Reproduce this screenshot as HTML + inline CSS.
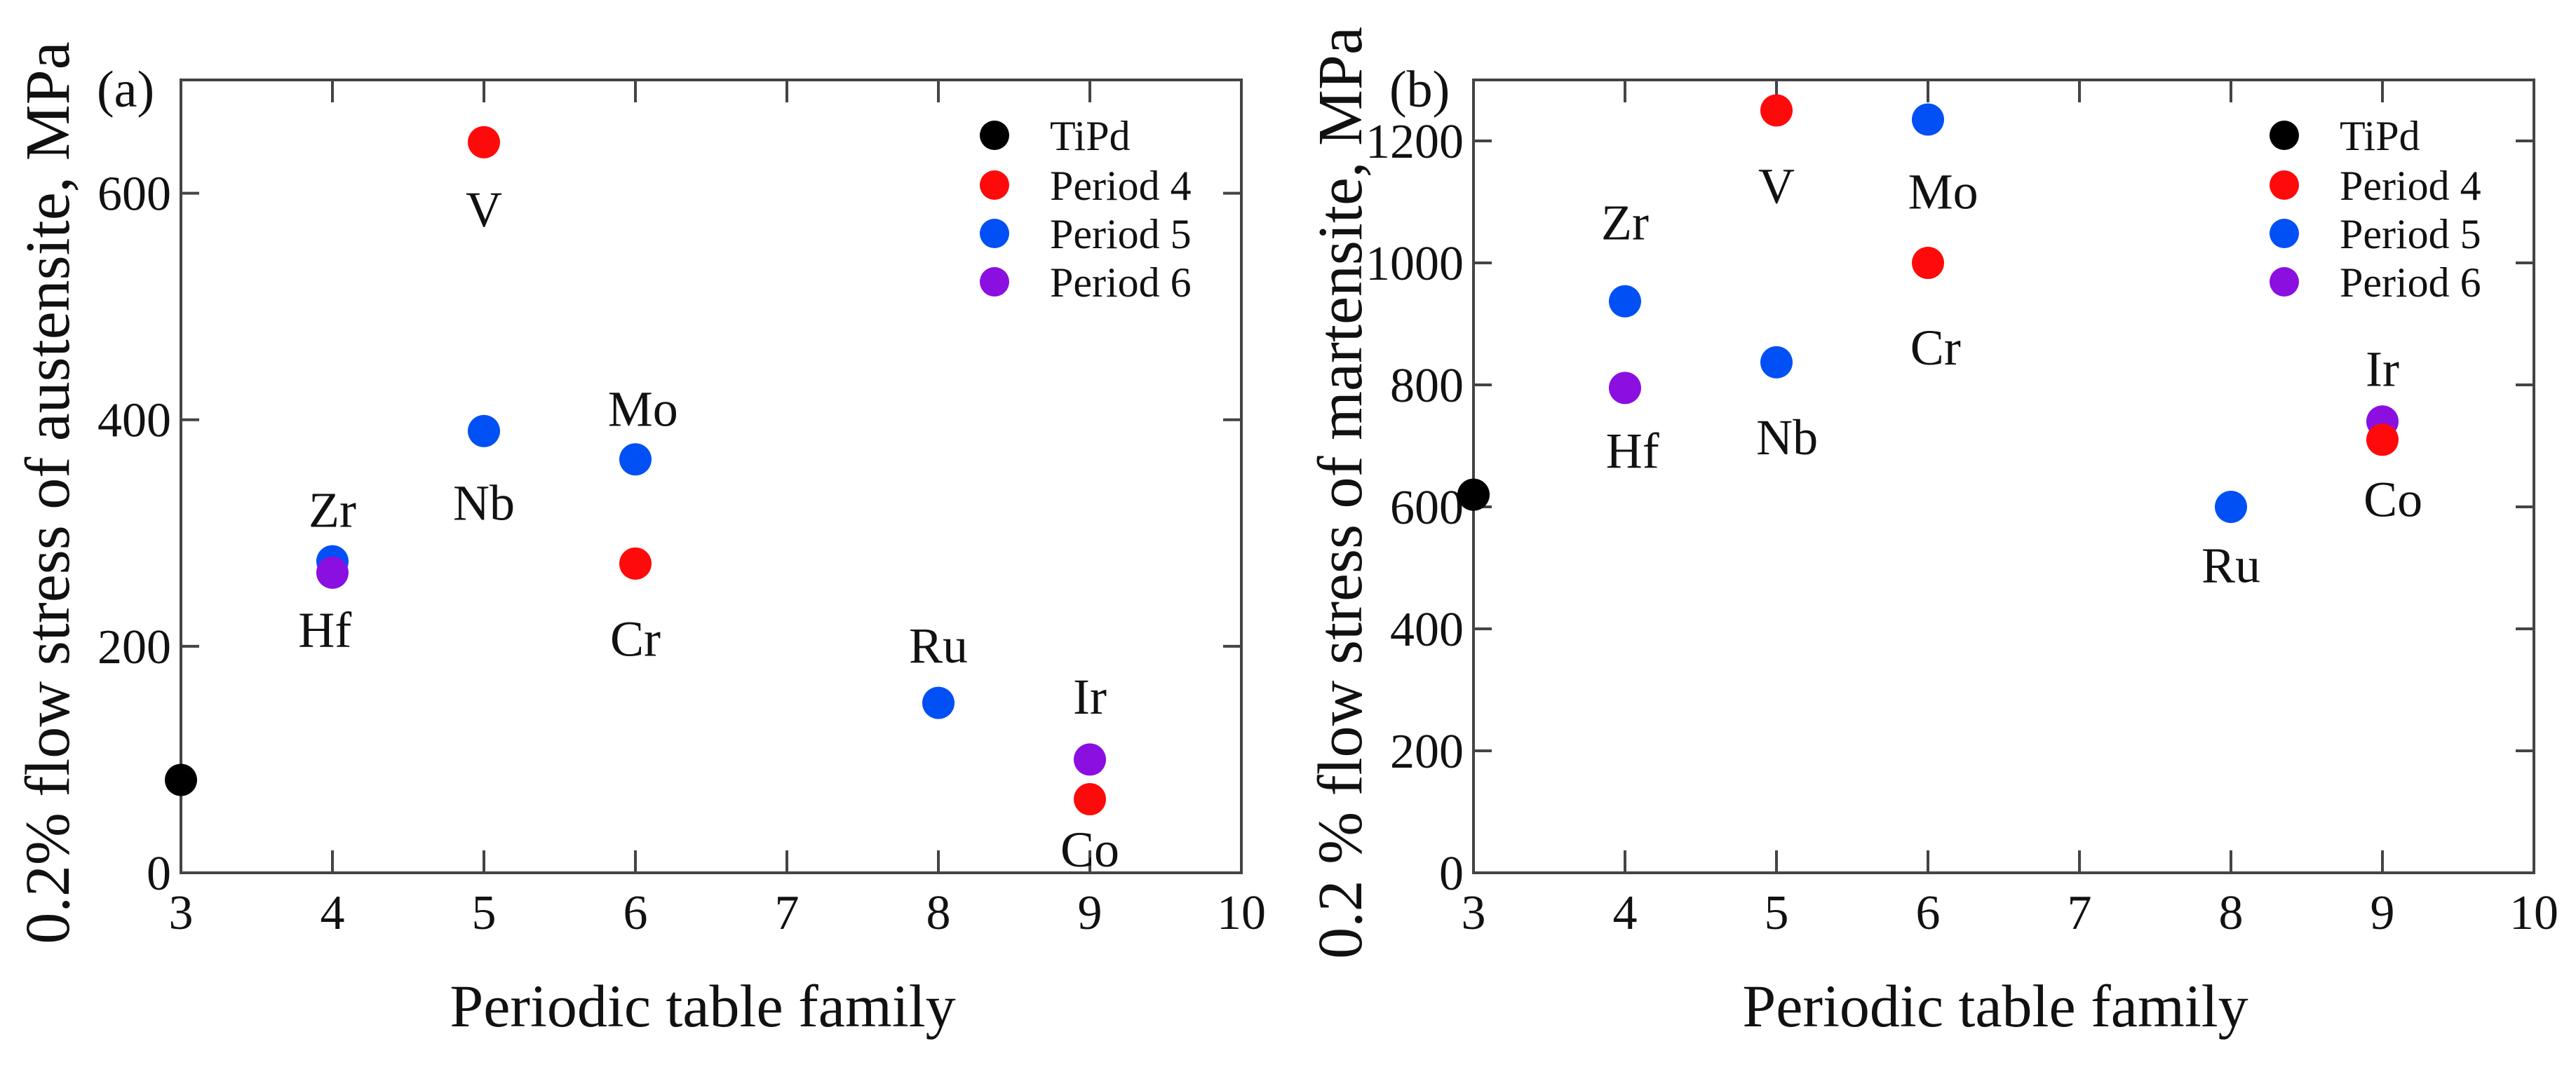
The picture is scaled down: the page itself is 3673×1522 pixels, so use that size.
<!DOCTYPE html>
<html><head><meta charset="utf-8"><style>
html,body{margin:0;padding:0;background:#fff;}
svg{display:block;font-family:"Liberation Serif",serif;}
</style></head><body>
<svg id="fig" width="3673" height="1522" viewBox="0 0 3673 1522" xmlns="http://www.w3.org/2000/svg"></svg>
<script>
// ---- Panel (a) data: austenite ----
const aNames  = ["TiPd","V","Nb","Mo","Cr","Zr","Hf","Ru","Ir","Co"];
const aFamily = [3,5,5,6,6,4,4,8,9,9];
const aStress = [82,645,390,365,273,275,265,150,100,65];
const aGroup  = ["TiPd","P4","P5","P5","P4","P5","P6","P5","P6","P4"];
const aLabelX = [null,5,5,6.05,6,4,3.95,8,9,9];
const aLabelY = [null,586,327,410,207,321,215,201,156,21];
// ---- Panel (b) data: martensite ----
const bNames  = ["TiPd","V","Mo","Cr","Zr","Nb","Hf","Ru","Ir","Co"];
const bFamily = [3,5,6,6,4,5,4,8,9,9];
const bStress = [620,1250,1235,1000,937,837,795,600,740,710];
const bGroup  = ["TiPd","P4","P5","P4","P5","P5","P6","P5","P6","P4"];
const bLabelX = [null,5,6.1,6.05,4,5.07,4.05,8,9,9.07];
const bLabelY = [null,1127,1118,862,1067,715,693,505,827,613];
// ---- Axes ----
const xTicks  = [3,4,5,6,7,8,9,10];
const aYTicks = [0,200,400,600];
const bYTicks = [0,200,400,600,800,1000,1200];
const legendKeys   = ["TiPd","P4","P5","P6"];
const legendLabels = ["TiPd","Period 4","Period 5","Period 6"];
const colors = {TiPd:"#000000",P4:"#ff0a0a",P5:"#0050f5",P6:"#8a0fe0"};

const NS="http://www.w3.org/2000/svg";
const svg=document.getElementById('fig');
function mk(tag,attrs,parent){const e=document.createElementNS(NS,tag);for(const k in attrs)e.setAttribute(k,attrs[k]);(parent||svg).appendChild(e);return e;}

function panel(o){
  const g=mk('g',{});
  
  
  const L=o.left,R=o.left+1512,T=114,B=1245;
  const xs=v=>L+(v-3)/7*(R-L);
  const ys=v=>B-v/o.ymax*(B-T);
  xTicks.forEach(t=>{
    const x=xs(t);
    if(t>3&&t<10){
      const tk=mk('line',{x1:x,y1:B,x2:x,y2:B-32,stroke:'#444','stroke-width':4},g);
      
      
      const tk2=mk('line',{x1:x,y1:T,x2:x,y2:T+32,stroke:'#444','stroke-width':4},g);
      
      
    }
    const lb=mk('text',{x:x,y:1325,'font-size':70,'text-anchor':'middle',fill:'#111'},g);
    lb.textContent=t;
    
    
  });
  o.yticks.forEach(t=>{
    const y=ys(t);
    if(t>0){
      const tk=mk('line',{x1:L,y1:y,x2:L+26,y2:y,stroke:'#444','stroke-width':4},g);
      
      
      const tk2=mk('line',{x1:R,y1:y,x2:R-26,y2:y,stroke:'#444','stroke-width':4},g);
      
      
    }
    const lb=mk('text',{x:L-14,y:y+24,'font-size':70,'text-anchor':'end',fill:'#111'},g);
    lb.textContent=t;
    
    
  });
  const fr=mk('rect',{x:L,y:T,width:R-L,height:B-T,fill:'none',stroke:'#444','stroke-width':4},g);
  
  
  o.fam.forEach((f,i)=>{
    const c=mk('circle',{cx:xs(f),cy:ys(o.val[i]),r:23,fill:colors[o.grp[i]]},g);
    
    
    if(o.lx[i]!==null){
      const t=mk('text',{x:xs(o.lx[i]),y:ys(o.ly[i])+25,'font-size':72,'text-anchor':'middle',fill:'#111'},g);
      t.textContent=o.names[i];
      
      
    }
  });
  const lg=mk('g',{},g);
  
  
  const rows=[193,264,333,402];
  legendKeys.forEach((k,i)=>{
    const c=mk('circle',{cx:o.legX,cy:rows[i],r:21,fill:colors[k]},lg);
    
    
    const t=mk('text',{x:o.legX+79,y:rows[i]+21,'font-size':60,fill:'#111'},lg);
    t.textContent=legendLabels[i];
    
    
  });
  const pl=mk('text',{x:o.left-120,y:152,'font-size':74,fill:'#111'},g);
  pl.textContent=o.tag;
  
  
  const xt=mk('text',{x:(L+R)/2-12,y:1464,'font-size':86,'text-anchor':'middle',fill:'#111'},g);
  xt.textContent='Periodic table family';
  
  
  const yt=mk('text',{x:0,y:0,'font-size':90,'text-anchor':'middle',fill:'#111',transform:`translate(${o.left-160},703) rotate(-90)`},g);
  yt.textContent=o.ytitle;
  
  
}
panel({id:'austenite',left:258,ymax:700,yticks:aYTicks,names:aNames,fam:aFamily,val:aStress,grp:aGroup,lx:aLabelX,ly:aLabelY,legX:1418,tag:'(a)',ytitle:'0.2% flow stress of austensite, MPa'});
panel({id:'martensite',left:2101,ymax:1300,yticks:bYTicks,names:bNames,fam:bFamily,val:bStress,grp:bGroup,lx:bLabelX,ly:bLabelY,legX:3257,tag:'(b)',ytitle:'0.2 % flow stress of martensite, MPa'});
</script>
</body></html>
